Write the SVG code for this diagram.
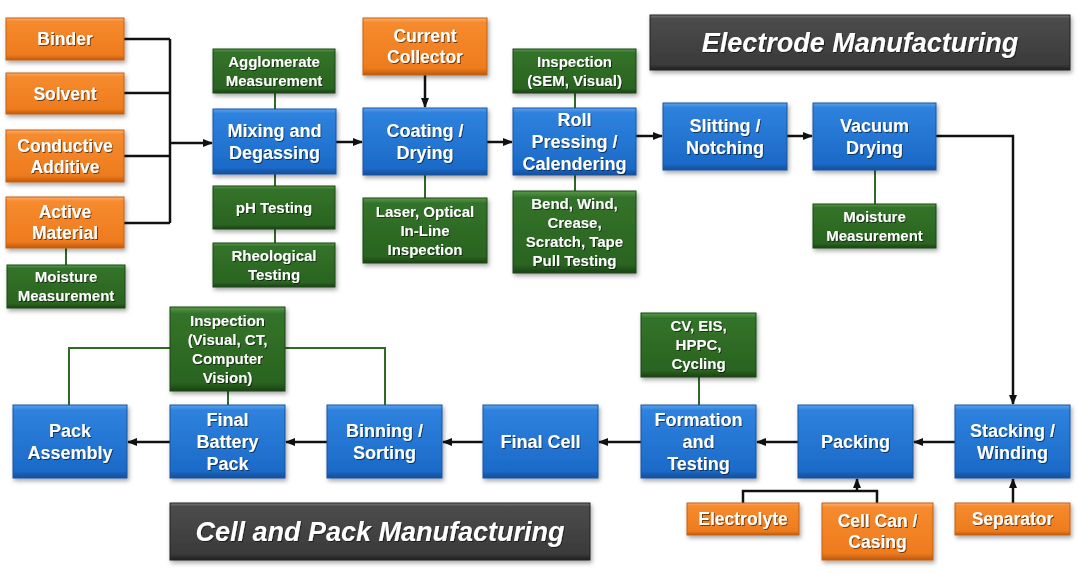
<svg xmlns="http://www.w3.org/2000/svg" width="1080" height="573" viewBox="0 0 1080 573">
<defs>
<linearGradient id="gBlue" x1="0" y1="0" x2="0" y2="1">
<stop offset="0" stop-color="#5ea4ec"/><stop offset="0.07" stop-color="#2e82de"/><stop offset="0.9" stop-color="#1c6ac8"/><stop offset="1" stop-color="#134e9a"/>
</linearGradient>
<linearGradient id="gOrange" x1="0" y1="0" x2="0" y2="1">
<stop offset="0" stop-color="#ffb070"/><stop offset="0.08" stop-color="#f68b2e"/><stop offset="0.88" stop-color="#ee7b1e"/><stop offset="1" stop-color="#bf5a0c"/>
</linearGradient>
<linearGradient id="gGreen" x1="0" y1="0" x2="0" y2="1">
<stop offset="0" stop-color="#5c9a4a"/><stop offset="0.08" stop-color="#33732a"/><stop offset="0.9" stop-color="#2a6420"/><stop offset="1" stop-color="#1a4212"/>
</linearGradient>
<linearGradient id="gDark" x1="0" y1="0" x2="0" y2="1">
<stop offset="0" stop-color="#7a7a7a"/><stop offset="0.06" stop-color="#4c4c4c"/><stop offset="0.9" stop-color="#3a3a3a"/><stop offset="1" stop-color="#1e1e1e"/>
</linearGradient>
<filter id="sh" x="-10%" y="-10%" width="125%" height="135%">
<feDropShadow dx="1.5" dy="2.5" stdDeviation="2" flood-color="#000" flood-opacity="0.35"/>
</filter>
<filter id="tsh" x="-5%" y="-20%" width="110%" height="150%">
<feDropShadow dx="1" dy="1" stdDeviation="0.6" flood-color="#000" flood-opacity="0.55"/>
</filter>
<marker id="ah" markerUnits="userSpaceOnUse" markerWidth="10" markerHeight="8" refX="9" refY="4" orient="auto">
<path d="M0,0 L10,4 L0,8 z" fill="#111"/>
</marker>
<style>
rect.b{fill:url(#gBlue);stroke:#17559f;stroke-width:1;filter:url(#sh)}
rect.o{fill:url(#gOrange);stroke:#c2600f;stroke-width:1;filter:url(#sh)}
rect.g{fill:url(#gGreen);stroke:#1c4614;stroke-width:1;filter:url(#sh)}
rect.d{fill:url(#gDark);stroke:#222;stroke-width:1;filter:url(#sh)}
text{font-family:"Liberation Sans",Arial,sans-serif;font-weight:bold;fill:#fff;text-anchor:middle;filter:url(#tsh)}
text.tb{font-size:18px}
text.to{font-size:17.5px}
text.tg{font-size:15px}
text.tt{font-size:27px;font-style:italic}
.k{fill:none;stroke:#111;stroke-width:2.5}
.ka{fill:none;stroke:#111;stroke-width:2.5;marker-end:url(#ah)}
.gl{fill:none;stroke:#2f6b25;stroke-width:2}
</style>
</defs>
<rect width="1080" height="573" fill="#fff"/>

<g id="connectors">
<path class="k" d="M124,39 H170 M124,93 H170 M124,156 H170 M124,223 H170 M170,39 V223"/>
<path class="ka" d="M170,143 H212"/>
<path class="ka" d="M336,142 H362"/>
<path class="ka" d="M425,75 V107"/>
<path class="ka" d="M487,142 H512"/>
<path class="ka" d="M636,136 H662"/>
<path class="ka" d="M787,136 H812"/>
<path class="ka" d="M936,136 H1013 V404"/>
<path class="ka" d="M955,442 H914"/>
<path class="ka" d="M798,442 H757"/>
<path class="ka" d="M641,442 H599"/>
<path class="ka" d="M483,442 H443"/>
<path class="ka" d="M327,442 H286"/>
<path class="ka" d="M170,442 H128"/>
<path class="ka" d="M1013,503 V479"/>
<path class="k" d="M743,503 V491 H877 V503"/>
<path class="ka" d="M857,491 V479"/>
<path class="gl" d="M66,248 V265"/>
<path class="gl" d="M275,93 V109 M275,174 V186 M275,229 V243"/>
<path class="gl" d="M425,175 V198"/>
<path class="gl" d="M575,93 V108 M575,175 V191"/>
<path class="gl" d="M875,170 V204"/>
<path class="gl" d="M170,348 H69 V405 M285,348 H385 V405 M228,391 V405"/>
<path class="gl" d="M699,377 V405"/>
</g>

<g id="banner-electrode"><rect class="d" x="650" y="15" width="420" height="55"/><text class="tt" x="860" y="52">Electrode Manufacturing</text></g>
<g id="banner-cell"><rect class="d" x="170" y="503" width="420" height="57"/><text class="tt" x="380" y="541">Cell and Pack Manufacturing</text></g>

<g id="binder"><rect class="o" x="6" y="18" width="118" height="42"/><text class="to" x="65" y="45">Binder</text></g>
<g id="solvent"><rect class="o" x="6" y="73" width="118" height="41"/><text class="to" x="65" y="99.5">Solvent</text></g>
<g id="conductive"><rect class="o" x="6" y="130" width="118" height="52"/><text class="to" x="65" y="151.5">Conductive</text><text class="to" x="65" y="172.5">Additive</text></g>
<g id="active"><rect class="o" x="6" y="197" width="118" height="51"/><text class="to" x="65" y="218">Active</text><text class="to" x="65" y="239">Material</text></g>
<g id="moisture1"><rect class="g" x="7" y="265" width="118" height="43"/><text class="tg" x="66" y="282.2">Moisture</text><text class="tg" x="66" y="301.2">Measurement</text></g>

<g id="agglomerate"><rect class="g" x="213" y="49" width="122" height="44"/><text class="tg" x="274" y="66.7">Agglomerate</text><text class="tg" x="274" y="85.7">Measurement</text></g>
<g id="mixing"><rect class="b" x="213" y="109" width="123" height="65"/><text class="tb" x="274.5" y="136.5">Mixing and</text><text class="tb" x="274.5" y="158.5">Degassing</text></g>
<g id="ph"><rect class="g" x="213" y="186" width="122" height="43"/><text class="tg" x="274" y="212.7">pH Testing</text></g>
<g id="rheo"><rect class="g" x="213" y="243" width="122" height="44"/><text class="tg" x="274" y="260.7">Rheological</text><text class="tg" x="274" y="279.7">Testing</text></g>

<g id="collector"><rect class="o" x="363" y="18" width="124" height="57"/><text class="to" x="425" y="42">Current</text><text class="to" x="425" y="63">Collector</text></g>
<g id="coating"><rect class="b" x="363" y="108" width="124" height="67"/><text class="tb" x="425" y="136.5">Coating /</text><text class="tb" x="425" y="158.5">Drying</text></g>
<g id="laser"><rect class="g" x="363" y="198" width="124" height="65"/><text class="tg" x="425" y="216.7">Laser, Optical</text><text class="tg" x="425" y="235.7">In-Line</text><text class="tg" x="425" y="254.7">Inspection</text></g>

<g id="sem"><rect class="g" x="513" y="49" width="123" height="44"/><text class="tg" x="574.5" y="66.7">Inspection</text><text class="tg" x="574.5" y="85.7">(SEM, Visual)</text></g>
<g id="roll"><rect class="b" x="513" y="108" width="123" height="67"/><text class="tb" x="574.5" y="125.5">Roll</text><text class="tb" x="574.5" y="147.5">Pressing /</text><text class="tb" x="574.5" y="169.5">Calendering</text></g>
<g id="bend"><rect class="g" x="513" y="191" width="123" height="82"/><text class="tg" x="574.5" y="208.7">Bend, Wind,</text><text class="tg" x="574.5" y="227.7">Crease,</text><text class="tg" x="574.5" y="246.7">Scratch, Tape</text><text class="tg" x="574.5" y="265.7">Pull Testing</text></g>

<g id="slitting"><rect class="b" x="663" y="103" width="124" height="67"/><text class="tb" x="725" y="131.5">Slitting /</text><text class="tb" x="725" y="153.5">Notching</text></g>
<g id="vacuum"><rect class="b" x="813" y="103" width="123" height="67"/><text class="tb" x="874.5" y="131.5">Vacuum</text><text class="tb" x="874.5" y="153.5">Drying</text></g>
<g id="moisture2"><rect class="g" x="813" y="204" width="123" height="44"/><text class="tg" x="874.5" y="221.7">Moisture</text><text class="tg" x="874.5" y="240.7">Measurement</text></g>

<g id="inspection-pack"><rect class="g" x="170" y="307" width="115" height="84"/><text class="tg" x="227.5" y="325.7">Inspection</text><text class="tg" x="227.5" y="344.7">(Visual, CT,</text><text class="tg" x="227.5" y="363.7">Computer</text><text class="tg" x="227.5" y="382.7">Vision)</text></g>
<g id="cv"><rect class="g" x="641" y="313" width="115" height="64"/><text class="tg" x="698.5" y="331.2">CV, EIS,</text><text class="tg" x="698.5" y="350.2">HPPC,</text><text class="tg" x="698.5" y="369.2">Cycling</text></g>

<g id="pack-assembly"><rect class="b" x="13" y="405" width="114" height="73"/><text class="tb" x="70" y="436.5">Pack</text><text class="tb" x="70" y="458.5">Assembly</text></g>
<g id="final-pack"><rect class="b" x="170" y="405" width="115" height="73"/><text class="tb" x="227.5" y="425.5">Final</text><text class="tb" x="227.5" y="447.5">Battery</text><text class="tb" x="227.5" y="469.5">Pack</text></g>
<g id="binning"><rect class="b" x="327" y="405" width="115" height="73"/><text class="tb" x="384.5" y="436.5">Binning /</text><text class="tb" x="384.5" y="458.5">Sorting</text></g>
<g id="final-cell"><rect class="b" x="483" y="405" width="115" height="73"/><text class="tb" x="540.5" y="447.5">Final Cell</text></g>
<g id="formation"><rect class="b" x="641" y="405" width="115" height="73"/><text class="tb" x="698.5" y="425.5">Formation</text><text class="tb" x="698.5" y="447.5">and</text><text class="tb" x="698.5" y="469.5">Testing</text></g>
<g id="packing"><rect class="b" x="798" y="405" width="115" height="73"/><text class="tb" x="855.5" y="447.5">Packing</text></g>
<g id="stacking"><rect class="b" x="955" y="405" width="115" height="73"/><text class="tb" x="1012.5" y="436.5">Stacking /</text><text class="tb" x="1012.5" y="458.5">Winding</text></g>

<g id="electrolyte"><rect class="o" x="687" y="503" width="112" height="32"/><text class="to" x="743" y="525">Electrolyte</text></g>
<g id="cellcan"><rect class="o" x="822" y="503" width="111" height="57"/><text class="to" x="877.5" y="527">Cell Can /</text><text class="to" x="877.5" y="548">Casing</text></g>
<g id="separator"><rect class="o" x="955" y="503" width="115" height="32"/><text class="to" x="1012.5" y="525">Separator</text></g>
</svg>
